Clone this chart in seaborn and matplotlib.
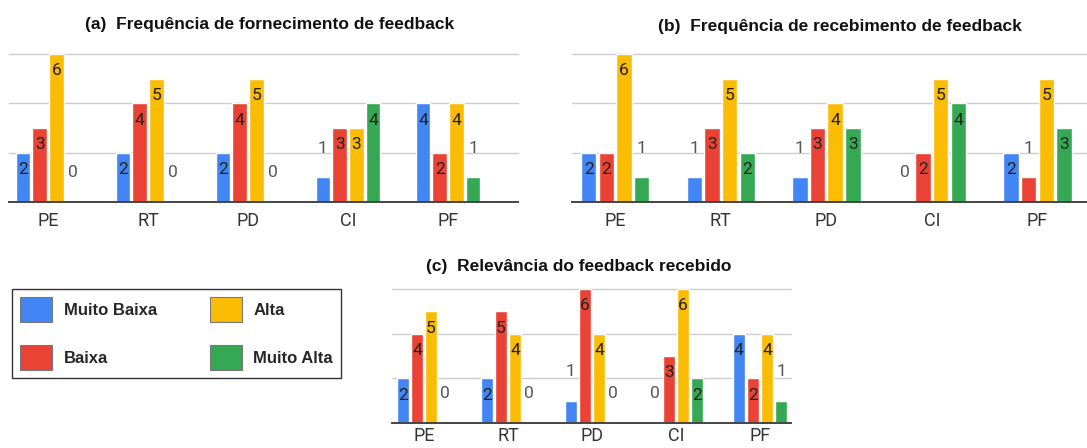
import numpy as np
import pandas as pd
import seaborn as sns
import matplotlib.pyplot as plt
from matplotlib.patches import Patch

# categories and levels
cats = ['PE', 'RT', 'PD', 'CI', 'PF']
levels = ['Muito Baixa', 'Baixa', 'Alta', 'Muito Alta']
colors = ['#4285F4', '#EA4335', '#FBBC04', '#34A853']

# (a) Frequencia de fornecimento de feedback
a_muito_baixa = [2, 2, 2, 1, 4]
a_baixa = [3, 4, 4, 3, 2]
a_alta = [6, 5, 5, 3, 4]
a_muito_alta = [0, 0, 0, 4, 1]

# (b) Frequencia de recebimento de feedback
b_muito_baixa = [2, 1, 1, 0, 2]
b_baixa = [2, 3, 3, 2, 1]
b_alta = [6, 5, 4, 5, 5]
b_muito_alta = [1, 2, 3, 4, 3]

# (c) Relevancia do feedback recebido
c_muito_baixa = [2, 2, 1, 0, 4]
c_baixa = [4, 5, 6, 3, 2]
c_alta = [5, 4, 4, 6, 4]
c_muito_alta = [0, 0, 0, 2, 1]

titles = ['(a)  Frequência de fornecimento de feedback',
          '(b)  Frequência de recebimento de feedback',
          '(c)  Relevância do feedback recebido']

sns.set_theme(style='white')
plt.rcParams['font.family'] = ['Liberation Sans', 'DejaVu Sans']

W, H = 1087, 448


def to_df(series):
    rows = []
    for lev, vals in zip(levels, series):
        for c, v in zip(cats, vals):
            rows.append({'cat': c, 'level': lev, 'val': v})
    return pd.DataFrame(rows)


def px_axes(fig, left, right, top, bottom):
    # pixel box -> figure fraction
    return fig.add_axes([left / W, 1 - bottom / H, (right - left) / W, (bottom - top) / H])


def draw(ax, series, xlim, pad=7):
    df = to_df(series)
    sns.barplot(data=df, x='cat', y='val', hue='level', hue_order=levels,
                palette=colors, width=0.67, gap=0.13, ax=ax, legend=False,
                saturation=1, errorbar=None)
    ax.set_xlim(*xlim)
    ax.set_ylim(0, 6)
    ax.set_xlabel('')
    ax.set_ylabel('')
    ax.set_yticks([])
    for y in [2, 4, 6]:
        ax.axhline(y, color='#cccccc', lw=1, zorder=0, clip_on=False)
    for s in ['top', 'right', 'left']:
        ax.spines[s].set_visible(False)
    ax.spines['bottom'].set_color('#444444')
    ax.spines['bottom'].set_linewidth(1.4)
    ax.tick_params(axis='x', length=0, pad=pad, labelsize=13, labelcolor='#333333')
    for t in ax.get_xticklabels():
        t.set_fontfamily('Roboto')
    for cont in ax.containers:
        for p in cont:
            h = p.get_height()
            xc = p.get_x() + p.get_width() / 2
            if h >= 2:
                ax.annotate(f'{int(h)}', (xc, h), xytext=(0, -12), textcoords='offset points',
                            ha='center', va='center', fontsize=12.5, color='#222222',
                            family='Roboto')
            else:
                ax.annotate(f'{int(h)}', (xc, h), xytext=(0, 21), textcoords='offset points',
                            ha='center', va='center', fontsize=12.5, color='#555555',
                            family='Roboto')


fig = plt.figure(figsize=(W / 100, H / 100), dpi=100)

ax_a = px_axes(fig, 9, 518, 54, 202)
draw(ax_a, [a_muito_baixa, a_baixa, a_alta, a_muito_alta], (-0.39, 4.70))

ax_b = px_axes(fig, 572, 1087, 54, 202)
draw(ax_b, [b_muito_baixa, b_baixa, b_alta, b_muito_alta], (-0.41, 4.47))

ax_c = px_axes(fig, 392, 791, 289, 423)
draw(ax_c, [c_muito_baixa, c_baixa, c_alta, c_muito_alta], (-0.38, 4.37), pad=3)

# titles
for (x, y), t in zip([(270, 25), (840, 26), (579, 266)], titles):
    fig.text(x / W, 1 - y / H, t, ha='center', va='center', fontsize=12.5,
             fontweight='bold', color='#111111')

# legend
handles = [Patch(facecolor=c, edgecolor='#777777', lw=0.8) for c in colors]
leg = fig.legend(handles, levels, ncol=2, loc='upper left',
                 bbox_to_anchor=(12 / W, 1 - 289 / H), borderaxespad=0,
                 frameon=True, fancybox=False,
                 edgecolor='black', handlelength=1.9, handleheight=1.9,
                 borderpad=0.5, labelspacing=1.4, columnspacing=3.2, handletextpad=0.7,
                 prop={'weight': 'bold', 'size': 12})
leg.get_frame().set_linewidth(1.0)

fig.savefig('out.png', dpi=100)
